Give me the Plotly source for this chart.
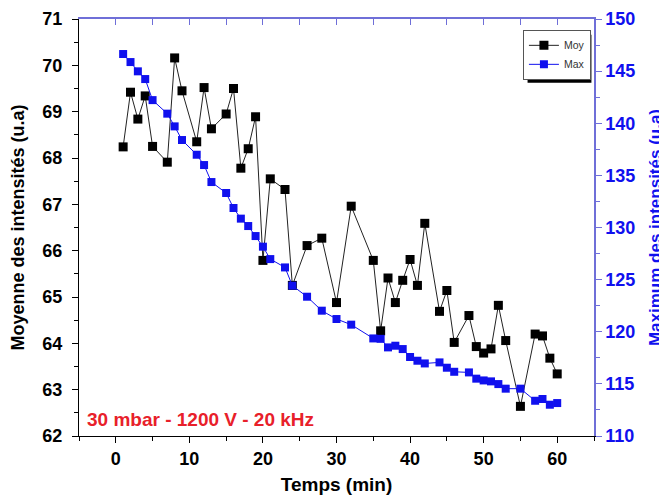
import plotly.graph_objects as go

# Data
temps = [1, 2, 3, 4, 5, 7, 8, 9, 11, 12, 13, 15, 16, 17, 18, 19, 20, 21, 23, 24,
         26, 28, 30, 32, 35, 36, 37, 38, 39, 40, 41, 42, 44, 45, 46, 48, 49, 50, 51,
         52, 53, 55, 57, 58, 59, 60]
moy = [68.24, 69.42, 68.84, 69.34, 68.25, 67.91, 70.16, 69.45, 68.35, 69.52, 68.63,
       68.95, 69.50, 67.78, 68.20, 68.89, 65.79, 67.55, 67.32, 65.25, 66.11, 66.27,
       64.88, 66.96, 65.79, 64.27, 65.41, 64.88, 65.36, 65.81, 65.25, 66.59, 64.69,
       65.14, 64.02, 64.60, 63.93, 63.79, 63.88, 64.82, 64.06, 62.64, 64.20, 64.16,
       63.68, 63.34]
maxi = [146.64, 145.87, 144.98, 144.24, 142.22, 140.92, 139.70, 138.39, 136.98,
        135.99, 134.36, 133.31, 131.87, 130.85, 130.14, 129.18, 128.16, 126.97,
        126.17, 124.42, 123.36, 122.02, 121.22, 120.68, 119.36, 119.32, 118.50,
        118.66, 118.34, 117.58, 117.22, 116.96, 117.06, 116.55, 116.16, 116.10,
        115.50, 115.33, 115.24, 114.98, 114.54, 114.54, 113.38, 113.55, 113.00,
        113.16]

x_ticks = [0, 10, 20, 30, 40, 50, 60]
left_ticks = [62, 63, 64, 65, 66, 67, 68, 69, 70, 71]
right_ticks = [110, 115, 120, 125, 130, 135, 140, 145, 150]

FONT = "Liberation Sans, Arial, sans-serif"
BLUE = "#1010ee"
AXBLUE = "#6f6fd8"

fig = go.Figure()
fig.add_trace(go.Scatter(
    x=temps, y=moy, name="Moy", mode="lines+markers",
    line=dict(color="#222222", width=1),
    marker=dict(symbol="square", size=9, color="black"),
    yaxis="y"))
fig.add_trace(go.Scatter(
    x=temps, y=maxi, name="Max", mode="lines+markers",
    line=dict(color=BLUE, width=1),
    marker=dict(symbol="square", size=8, color=BLUE),
    yaxis="y2"))
# invisible trace to host the blue top axis
fig.add_trace(go.Scatter(x=[], y=[], xaxis="x2", yaxis="y", showlegend=False))

tickfont = dict(family=FONT, size=18, color="black", weight="bold")

LEG_X, LEG_Y = 0.862, 0.974

fig.update_layout(
    width=659, height=487,
    margin=dict(l=71, r=73, t=11, b=59, autoexpand=False),
    paper_bgcolor="white", plot_bgcolor="white",
    showlegend=True,
    legend=dict(x=LEG_X, y=LEG_Y, xanchor="left", yanchor="top",
                bgcolor="white", bordercolor="#555555", borderwidth=1,
                font=dict(family=FONT, size=10.5, color="#333333"),
                itemwidth=30, tracegroupgap=0, traceorder="normal"),
    xaxis=dict(range=[-5, 65], tickvals=x_ticks, ticks="outside", ticklen=6,
               tickwidth=1, tickcolor="black", showline=True, linecolor="black",
               linewidth=1, showgrid=False, zeroline=False, tickfont=tickfont,
               automargin=False,
               minor=dict(dtick=5, tick0=0, ticks="outside", ticklen=4,
                          tickcolor="black"),
               title=dict(text="Temps (min)",
                          font=dict(family=FONT, size=19, color="black",
                                    weight="bold"))),
    xaxis2=dict(range=[-5, 65], overlaying="x", side="top", anchor="y",
                tickvals=x_ticks, ticks="inside", ticklen=6, tickcolor=AXBLUE,
                showline=True, linecolor=AXBLUE, linewidth=1.5,
                showticklabels=False, showgrid=False, zeroline=False,
                automargin=False,
                minor=dict(dtick=5, tick0=0, ticks="inside", ticklen=6,
                           tickcolor=AXBLUE)),
    yaxis=dict(range=[62, 71], tickvals=left_ticks, ticks="outside", ticklen=6,
               tickcolor="black", showline=True, linecolor="black", linewidth=1,
               showgrid=False, zeroline=False, tickfont=tickfont,
               automargin=False, ticklabelstandoff=6,
               minor=dict(dtick=0.5, tick0=62, ticks="outside", ticklen=4,
                          tickcolor="black"),
               title=dict(text="Moyenne des intensités (u.a)",
                          font=dict(family=FONT, size=18, color="black",
                                    weight="bold"))),
    yaxis2=dict(range=[110, 150], tickvals=right_ticks, overlaying="y",
                side="right", ticks="outside", ticklen=6, tickcolor=AXBLUE,
                showline=True, linecolor=AXBLUE, linewidth=1.5, showgrid=False,
                zeroline=False, automargin=False,
                tickfont=dict(family=FONT, size=18, color=BLUE, weight="bold"),
                minor=dict(dtick=2.5, tick0=110, ticks="outside", ticklen=4,
                           tickcolor=AXBLUE),
                title=dict(text="Maximum des intensités (u.a)",
                           font=dict(family=FONT, size=17, color=BLUE,
                                     weight="bold"))),
)

# drop shadow behind the legend box (legend is drawn on top of it)
fig.add_shape(type="rect", xref="paper", yref="paper", layer="above",
              x0=LEG_X + 0.009, x1=0.995, y0=0.847, y1=LEG_Y - 0.012,
              fillcolor="black", line=dict(width=0))

fig.add_annotation(text="30 mbar - 1200 V - 20 kHz", xref="paper", yref="paper",
                   x=0.012, y=0.04, xanchor="left", yanchor="middle",
                   showarrow=False,
                   font=dict(family=FONT, size=19, color="#e8202a",
                             weight="bold"))

fig.write_html("out.html")
